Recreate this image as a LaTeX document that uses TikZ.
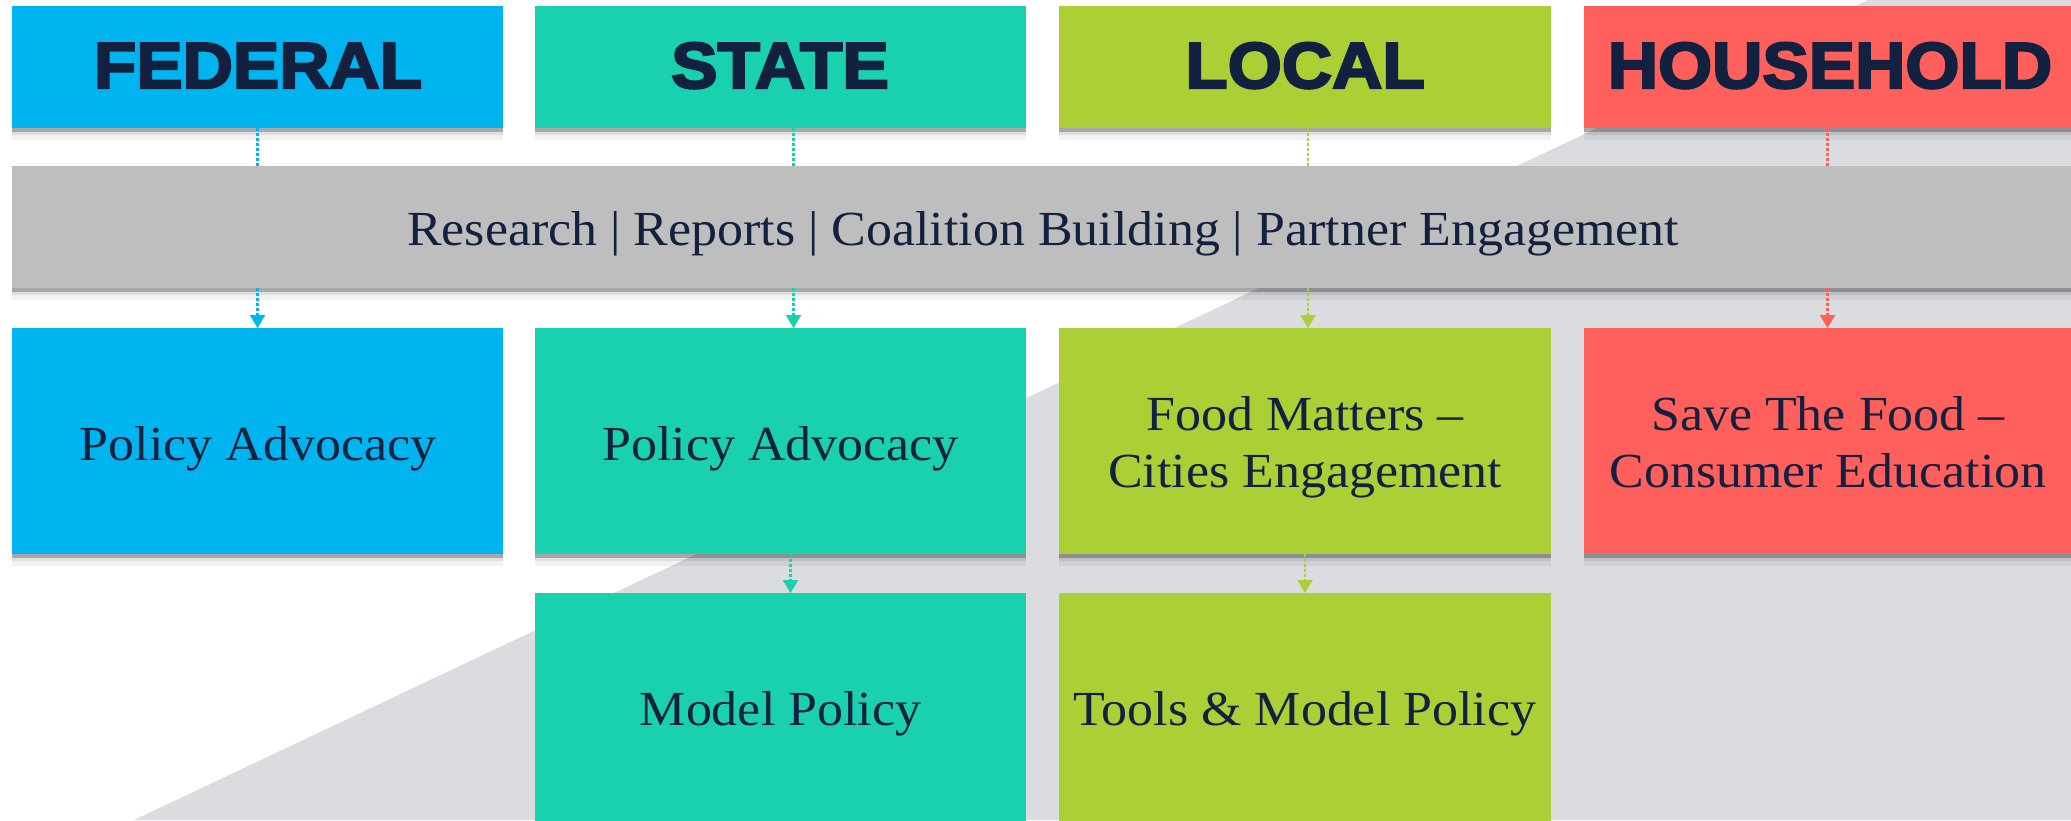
\documentclass[tikz,border=0pt]{standalone}
\usepackage{fontspec}
\setmainfont{Liberation Serif}[FakeStretch=1.06]
\newfontfamily\headfont{Liberation Sans}[UprightFont={* Bold}, FakeBold=3.5, FakeStretch=1.07]
\usetikzlibrary{arrows.meta,shadows}
\definecolor{navy}{HTML}{12213F}
\definecolor{fedc}{HTML}{00B5EF}
\definecolor{statec}{HTML}{19D0AF}
\definecolor{localc}{HTML}{ADCF36}
\definecolor{housec}{HTML}{FF605C}
\definecolor{barc}{HTML}{BEBEBE}
\definecolor{bgtri}{HTML}{DBDCE0}
\begin{document}
\begin{tikzpicture}[x=1pt,y=-1pt,
  box/.style={rectangle, anchor=north west, inner sep=0pt, outer sep=0pt, minimum width=491pt,
     general shadow={fill=black, opacity=0.05, shadow yshift=-12pt},
     general shadow={fill=black, opacity=0.08, shadow yshift=-7pt},
     general shadow={fill=black, opacity=0.25, shadow yshift=-4pt}},
  headtxt/.style={font=\headfont\fontsize{65}{65}\selectfont, text=navy, anchor=base, inner sep=0pt},
  bodytxt/.style={font=\fontsize{49}{57}\selectfont, text=navy, inner sep=0pt, align=center},
  conn/.style={line width=2.2pt, dash pattern=on 3pt off 2pt},
  tip/.style={-{Triangle[width=15pt,length=13pt]}}
]
\useasboundingbox (0,0) rectangle (2071,820);
\fill[white] (0,0) rectangle (2071,820);
\clip (0,0) rectangle (2071,820);
\fill[bgtri] (134,820) -- (1868,0) -- (2071,0) -- (2071,820) -- cycle;

% headers
\node[box, fill=fedc, minimum height=122pt] (fedH) at (12,6) {};
\node[box, fill=statec, minimum height=122pt] (stH) at (535,6) {};
\node[box, fill=localc, minimum height=122pt, minimum width=492pt] (locH) at (1059,6) {};
\node[box, fill=housec, minimum height=122pt] (hhH) at (1584,6) {};
\node[headtxt] (fedHt) at (258,88) {FEDERAL};
\node[headtxt] (stHt) at (780,88) {STATE};
\node[headtxt] (locHt) at (1305,88) {LOCAL};
\node[headtxt] (hhHt) at (1830,88) {HOUSEHOLD};

% bar
\node[box, fill=barc, minimum height=122pt, minimum width=2064pt] (bar) at (12,166) {};
\node[bodytxt, anchor=base] (bart) at (1043,245) {Research | Reports | Coalition Building | Partner Engagement};

% row 2
\node[box, fill=fedc, minimum height=226pt] (fedP) at (12,328) {};
\node[box, fill=statec, minimum height=226pt] (stP) at (535,328) {};
\node[box, fill=localc, minimum height=226pt, minimum width=492pt] (locP) at (1059,328) {};
\node[box, fill=housec, minimum height=226pt] (hhP) at (1584,328) {};
\node[bodytxt, anchor=base] (fedPt) at (258,460) {Policy Advocacy};
\node[bodytxt, anchor=base] (stPt) at (780.5,460) {Policy Advocacy};
\node[bodytxt] (locPt) at (1305,447) {Food Matters --\\Cities Engagement};
\node[bodytxt] (hhPt) at (1828,447) {Save The Food --\\Consumer Education\vphantom{g}};

% row 3
\node[box, fill=statec, minimum height=240pt] (stM) at (535,593) {};
\node[box, fill=localc, minimum height=240pt, minimum width=492pt] (locM) at (1059,593) {};
\node[bodytxt, anchor=base] (stMt) at (780.5,725) {Model Policy};
\node[bodytxt, anchor=base] (locMt) at (1305,725) {Tools \& Model Policy};

% connectors
\draw[conn, fedc] (fedH.south) -- (fedH.south |- bar.north);
\draw[conn, tip, fedc] (bar.south -| fedP.north) -- (fedP.north);
\draw[conn, statec] ([xshift=13pt]stH.south) -- ([xshift=13pt]stH.south |- bar.north);
\draw[conn, tip, statec] ([xshift=13pt]bar.south -| stP.north) -- ([xshift=13pt]stP.north);
\draw[conn, tip, statec] ([xshift=10pt]stP.south) -- ([xshift=10pt]stM.north);
\draw[conn, localc] ([xshift=3pt]locH.south) -- ([xshift=3pt]locH.south |- bar.north);
\draw[conn, tip, localc] ([xshift=3pt]bar.south -| locP.north) -- ([xshift=3pt]locP.north);
\draw[conn, tip, localc] (locP.south) -- (locM.north);
\draw[conn, housec] ([xshift=-2pt]hhH.south) -- ([xshift=-2pt]hhH.south |- bar.north);
\draw[conn, tip, housec] ([xshift=-2pt]bar.south -| hhP.north) -- ([xshift=-2pt]hhP.north);
\end{tikzpicture}
\end{document}
